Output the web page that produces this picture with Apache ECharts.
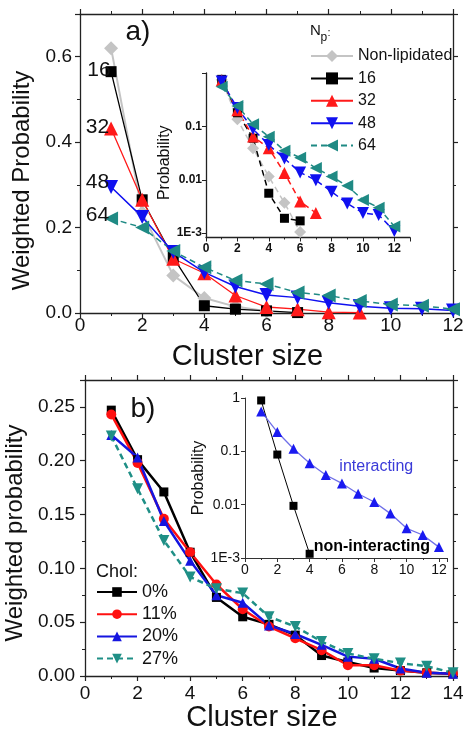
<!DOCTYPE html>
<html>
<head>
<meta charset="utf-8">
<script src="https://cdn.jsdelivr.net/npm/echarts@6/dist/echarts.min.js"></script>
<style>
  html, body { margin: 0; padding: 0; background: #fff; }
  #chart { width: 464px; height: 730px; }
</style>
</head>
<body>
<div id="chart"></div>
<script>
// ---- panel a) main : weighted probability, cluster size 1..n
var npNames = ['Non-lipidated', '16', '32', '48', '64'];
var aNonLip = [0.62, 0.235, 0.088, 0.035, 0.015, 0.004];
var a16 = [0.565, 0.265, 0.13, 0.017, 0.009, 0.005, 0.001];
var a32 = [0.432, 0.265, 0.127, 0.093, 0.041, 0.014, 0.009, 0.002, 0.001];
var a48 = [0.295, 0.225, 0.143, 0.095, 0.062, 0.042, 0.036, 0.024, 0.016, 0.011, 0.01, 0.006];
var a64 = [0.221, 0.2, 0.145, 0.107, 0.076, 0.068, 0.048, 0.041, 0.028, 0.02, 0.017, 0.009];

// ---- panel a) inset : probability (log)
var aInNonLip = [0.75, 0.136, 0.039, 0.0115, 0.0037, 0.00105];
var aIn16 = [0.76, 0.18, 0.06, 0.0056, 0.0019, 0.0017];
var aIn32 = [0.72, 0.2, 0.065, 0.039, 0.0134, 0.0039, 0.0024];
var aIn48 = [0.69, 0.22, 0.089, 0.045, 0.025, 0.0137, 0.0098, 0.006, 0.0036, 0.0024, 0.0022, 0.0011];
var aIn64 = [0.55, 0.24, 0.11, 0.064, 0.035, 0.026, 0.0166, 0.0115, 0.0077, 0.0042, 0.003, 0.00134];

// ---- panel b) main : cholesterol content
var cholNames = ['0%', '11%', '20%', '27%'];
var b0 = [0.247, 0.201, 0.171, 0.115, 0.073, 0.055, 0.048, 0.038, 0.019, 0.013, 0.0074, 0.005, 0.003, 0.002];
var b11 = [0.243, 0.198, 0.146, 0.115, 0.085, 0.062, 0.046, 0.035, 0.024, 0.010, 0.010, 0.005, 0.003, 0.002];
var b20 = [0.224, 0.203, 0.144, 0.107, 0.075, 0.068, 0.047, 0.039, 0.029, 0.018, 0.016, 0.007, 0.003, 0.002];
var b27 = [0.223, 0.174, 0.126, 0.092, 0.081, 0.077, 0.055, 0.046, 0.032, 0.021, 0.016, 0.012, 0.009, 0.003];

// ---- panel b) inset
var bInNon = [0.9, 0.087, 0.0095, 0.0012];
var bInInter = [0.56, 0.23, 0.112, 0.06, 0.036, 0.025, 0.016, 0.0112, 0.0068, 0.0036, 0.0027, 0.0016];

var FONT = '"Liberation Sans", Arial, sans-serif';
var INK = '#111';

function pts(vals) {
  return vals.map(function (v, i) { return [i + 1, v]; });
}

// first point carries the N_p label on the left
function ptsLabel(vals, dy) {
  return vals.map(function (v, i) {
    if (i > 0) return [i + 1, v];
    return {
      value: [i + 1, v],
      label: { show: true, position: 'left', distance: -5, offset: [0, dy],
        formatter: '{a}', fontSize: 21, color: INK, fontFamily: FONT }
    };
  });
}

function logFmt(showOne) {
  return function (v) {
    var e = Math.log10(v);
    var r = Math.round(e);
    if (Math.abs(e - r) > 0.01) return '';
    if (r === 0) return showOne ? '1' : '';
    if (r === -1) return '0.1';
    if (r === -2) return '0.01';
    return '1E' + r;
  };
}

var axLine = { show: true, onZero: false, lineStyle: { color: '#222', width: 1.3 } };
var tick = { show: true, length: 5, lineStyle: { color: '#222', width: 1.2 } };
var minor = { show: true, splitNumber: 2, length: 3, lineStyle: { color: '#222', width: 1 } };

function mirror(gridIndex, pos, min, max, interval) {
  return {
    gridIndex: gridIndex, type: 'value', position: pos, min: min, max: max, interval: interval,
    axisLine: axLine, axisTick: tick, minorTick: minor,
    axisLabel: { show: false }, splitLine: { show: false }
  };
}

var xAxes = [
  { // 0 a bottom
    gridIndex: 0, type: 'value', position: 'bottom', min: 0, max: 12, interval: 2,
    axisLine: axLine, axisTick: tick, minorTick: minor, splitLine: { show: false },
    axisLabel: { color: INK, fontSize: 19, fontFamily: FONT, margin: 3 },
    name: 'Cluster size', nameLocation: 'middle', nameGap: 29,
    nameTextStyle: { fontSize: 29, color: INK, fontFamily: FONT, padding: [0, 38, 0, 0] }
  },
  mirror(0, 'top', 0, 12, 2),
  { // 2 inset a
    gridIndex: 1, type: 'value', position: 'bottom', min: 0, max: 13, interval: 2,
    axisLine: axLine, axisTick: { show: true, length: 4, lineStyle: { color: '#222' } },
    minorTick: { show: true, splitNumber: 2, length: 2, lineStyle: { color: '#222' } },
    splitLine: { show: false },
    axisLabel: { color: INK, fontSize: 12, fontWeight: 'bold', fontFamily: FONT, margin: 5, showMaxLabel: false }
  },
  { // 3 b bottom
    gridIndex: 2, type: 'value', position: 'bottom', min: 0, max: 14, interval: 2,
    axisLine: axLine, axisTick: tick, minorTick: minor, splitLine: { show: false },
    axisLabel: { color: INK, fontSize: 19, fontFamily: FONT, margin: 8 },
    name: 'Cluster size', nameLocation: 'middle', nameGap: 24,
    nameTextStyle: { fontSize: 29, color: INK, fontFamily: FONT, padding: [0, 14, 0, 0] }
  },
  mirror(2, 'top', 0, 14, 2),
  { // 5 inset b
    gridIndex: 3, type: 'value', position: 'bottom', min: 0, max: 12.5, interval: 2,
    axisLine: { show: true, onZero: false, lineStyle: { color: '#333', width: 1 } },
    axisTick: { show: true, length: 4, lineStyle: { color: '#333' } },
    minorTick: { show: true, splitNumber: 2, length: 2, lineStyle: { color: '#333' } },
    splitLine: { show: false },
    axisLabel: { color: INK, fontSize: 14, fontFamily: FONT, margin: 5, showMaxLabel: false }
  }
];

var yAxes = [
  { // 0 a left
    gridIndex: 0, type: 'value', position: 'left', min: 0, max: 0.7, interval: 0.2,
    axisLine: axLine, axisTick: tick, minorTick: minor, splitLine: { show: false },
    axisLabel: { color: INK, fontSize: 19, fontFamily: FONT, margin: 8, showMaxLabel: false,
      formatter: function (v) { return v.toFixed(1); } },
    name: 'Weighted Probability', nameLocation: 'middle', nameGap: 43,
    nameTextStyle: { fontSize: 24, color: INK, fontFamily: FONT, padding: [0, 34, 0, 0] }
  },
  mirror(0, 'right', 0, 0.7, 0.2),
  { // 2 inset a
    gridIndex: 1, type: 'log', logBase: 10, min: 0.00083, max: 1, position: 'left',
    axisLine: axLine, axisTick: { show: true, length: 4, lineStyle: { color: '#222' } },
    splitLine: { show: false },
    axisLabel: { color: INK, fontSize: 12, fontWeight: 'bold', fontFamily: FONT, margin: 4,
      showMinLabel: false, formatter: logFmt(false) },
    name: 'Probability', nameLocation: 'middle', nameGap: 27,
    nameTextStyle: { fontSize: 16, color: INK, fontFamily: FONT, padding: [0, 15, 0, 0] }
  },
  { // 3 b left
    gridIndex: 2, type: 'value', position: 'left', min: 0, max: 0.275, interval: 0.05,
    axisLine: axLine, axisTick: tick, minorTick: minor, splitLine: { show: false },
    axisLabel: { color: INK, fontSize: 19, fontFamily: FONT, margin: 10, showMaxLabel: false,
      formatter: function (v) { return v.toFixed(2); } },
    name: 'Weighted probability', nameLocation: 'middle', nameGap: 48,
    nameTextStyle: { fontSize: 24, color: INK, fontFamily: FONT, padding: [0, 10, 0, 0] }
  },
  mirror(2, 'right', 0, 0.275, 0.05),
  { // 5 inset b
    gridIndex: 3, type: 'log', logBase: 10, min: 0.001, max: 1, position: 'left',
    axisLine: { show: true, onZero: false, lineStyle: { color: '#333', width: 1 } },
    axisTick: { show: true, length: 4, lineStyle: { color: '#333' } },
    splitLine: { show: false },
    axisLabel: { color: INK, fontSize: 14, fontFamily: FONT, margin: 5, formatter: logFmt(true) },
    name: 'Probability', nameLocation: 'middle', nameGap: 29,
    nameTextStyle: { fontSize: 16, color: INK, fontFamily: FONT }
  }
];

var GRAY = '#c4c4c4', RED = '#ff1a1a', BLUE = '#1010f0', TEAL = '#1f8a84';

function line(name, xi, data, color, symbol, size, rot, width, dashed) {
  return {
    name: name, type: 'line', xAxisIndex: xi, yAxisIndex: xi, data: data,
    symbol: symbol, symbolSize: size, symbolRotate: rot,
    itemStyle: { color: color },
    lineStyle: { color: color, width: width, type: dashed ? [6, 4] : 'solid' },
    emphasis: { disabled: true }, silent: true
  };
}

var series = [
  line('Non-lipidated', 0, pts(aNonLip), GRAY, 'diamond', 14, 0, 2, false),
  line('16', 0, ptsLabel(a16, -1.5), '#000', 'rect', 11, 0, 1.3, false),
  line('32', 0, ptsLabel(a32, -1.5), RED, 'triangle', 14, 0, 1.3, false),
  line('48', 0, ptsLabel(a48, -5), BLUE, 'triangle', 14, 180, 1.5, false),
  line('64', 0, ptsLabel(a64, -3), TEAL, 'triangle', 14, 90, 1.5, true),

  line('Non-lipidated', 2, pts(aInNonLip), GRAY, 'diamond', 12, 0, 1.5, true),
  line('16', 2, pts(aIn16), '#000', 'rect', 9, 0, 1.5, true),
  line('32', 2, pts(aIn32), RED, 'triangle', 12, 0, 1.5, true),
  line('48', 2, pts(aIn48), BLUE, 'triangle', 12, 180, 1.5, true),
  line('64', 2, pts(aIn64), TEAL, 'triangle', 12, 90, 1.5, true),

  line('0%', 3, pts(b0), '#000', 'rect', 9, 0, 2.5, false),
  line('11%', 3, pts(b11), '#ff1010', 'circle', 10, 0, 2.5, false),
  line('20%', 3, pts(b20), '#1515e0', 'triangle', 10, 0, 2.5, false),
  line('27%', 3, pts(b27), '#1f8f86', 'triangle', 11, 180, 2.5, true)
];

var nonData = pts(bInNon);
nonData[3] = { value: nonData[3], label: { show: true, position: 'right', distance: 0, offset: [0, -7],
  formatter: '{a}', fontSize: 16, fontWeight: 'bold', color: '#000', fontFamily: FONT } };
var interData = pts(bInInter);
interData[7] = { value: interData[7], label: { show: true, position: 'top', distance: 22, offset: [2, 0],
  formatter: '{a}', fontSize: 16, color: '#3a3ad8', fontFamily: FONT } };
series.push(line('non-interacting', 5, nonData, '#000', 'rect', 8, 0, 1, false));
series.push(line('interacting', 5, interData, '#1a1af0', 'triangle', 10, 0, 1.3, false));
series[series.length - 1].lineStyle.color = '#6f6fe8';

var chart = echarts.init(document.getElementById('chart'), null, { renderer: 'canvas' });
chart.setOption({
  animation: false,
  backgroundColor: '#fff',
  textStyle: { fontFamily: FONT },
  grid: [
    { left: 80, top: 14, width: 373, height: 299, outerBoundsMode: 'none', containLabel: false },
    { left: 206, top: 73, width: 204, height: 164.5, outerBoundsMode: 'none', containLabel: false },
    { left: 85, top: 380, width: 368, height: 296, outerBoundsMode: 'none', containLabel: false },
    { left: 245, top: 398, width: 202, height: 160, outerBoundsMode: 'none', containLabel: false }
  ],
  xAxis: xAxes,
  yAxis: yAxes,
  legend: [
    { data: npNames, orient: 'vertical', left: 310, top: 48, itemWidth: 42, itemHeight: 15,
      itemGap: 6.4, padding: 0, selectedMode: false,
      textStyle: { fontSize: 16, color: INK, fontFamily: FONT } },
    { data: cholNames, orient: 'vertical', left: 96, top: 583, itemWidth: 40, itemHeight: 12,
      itemGap: 4.2, padding: 0, selectedMode: false,
      textStyle: { fontSize: 18, color: INK, fontFamily: FONT } }
  ],
  graphic: [
    { type: 'text', x: 138, y: 32, style: { text: 'a)', font: '28px ' + FONT, fill: INK,
      textAlign: 'center', textVerticalAlign: 'middle', align: 'center', verticalAlign: 'middle' } },
    { type: 'text', x: 143, y: 409, style: { text: 'b)', font: '28px ' + FONT, fill: INK,
      textAlign: 'center', textVerticalAlign: 'middle', align: 'center', verticalAlign: 'middle' } },
    { type: 'text', x: 310, y: 31, style: { text: 'N', font: '15px ' + FONT, fill: INK,
      textVerticalAlign: 'middle', verticalAlign: 'middle' } },
    { type: 'text', x: 320.5, y: 38, style: { text: 'p', font: '12px ' + FONT, fill: INK,
      textVerticalAlign: 'middle', verticalAlign: 'middle' } },
    { type: 'text', x: 327.5, y: 33, style: { text: ':', font: '11px ' + FONT, fill: INK,
      textVerticalAlign: 'middle', verticalAlign: 'middle' } },
    { type: 'text', x: 96, y: 572, style: { text: 'Chol:', font: '18px ' + FONT, fill: INK,
      textVerticalAlign: 'middle', verticalAlign: 'middle' } }
  ],
  series: series
});
</script>
</body>
</html>
